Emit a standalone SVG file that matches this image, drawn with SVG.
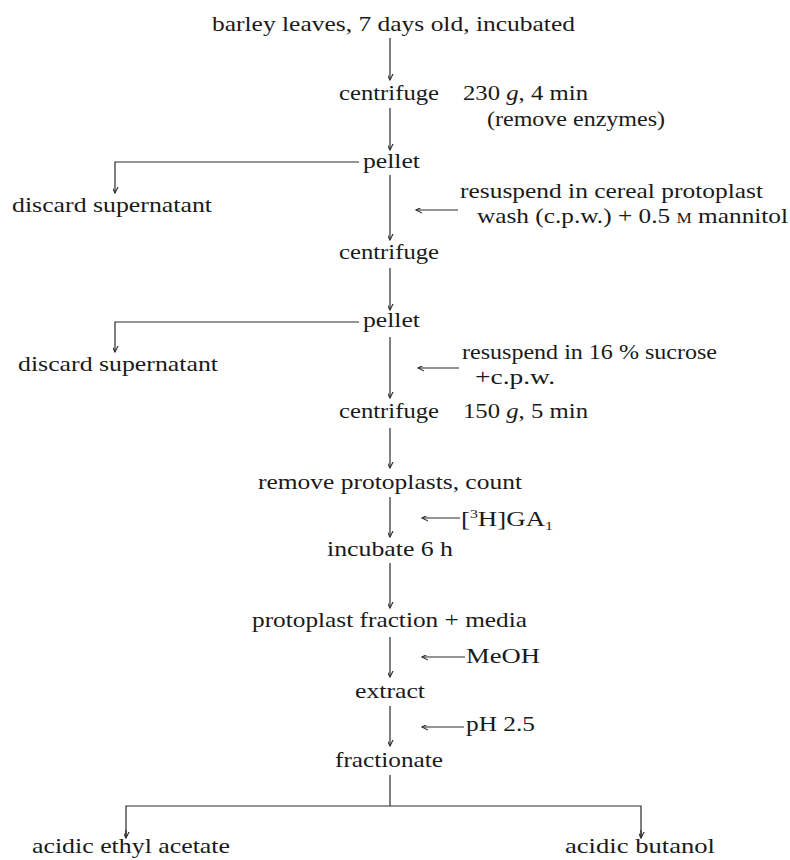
<svg xmlns="http://www.w3.org/2000/svg" width="790" height="860" viewBox="0 0 790 860">
<defs>
<style>
text{font-family:"Liberation Serif","Times New Roman",serif;font-size:22px;fill:#1a1a1a}
.ln{stroke:#2a2a2a;stroke-width:1.2;fill:none}
.sm{font-size:15px}
.sup{font-size:13px}
</style>
<marker id="ah" viewBox="-6 -10 12 12" refX="0" refY="0" markerWidth="12" markerHeight="12" markerUnits="userSpaceOnUse" orient="auto-start-reverse">
<path d="M-4,-8 L0,0 L4,-8" transform="rotate(-90)" stroke="#2a2a2a" stroke-width="1.1" fill="none"/>
</marker>
</defs>
<g id="connectors" class="ln">
<line x1="390" y1="38" x2="390" y2="80" marker-end="url(#ah)"/>
<line x1="390" y1="108" x2="390" y2="150" marker-end="url(#ah)"/>
<polyline points="359,162 115,162 115,193" marker-end="url(#ah)"/>
<line x1="390" y1="175" x2="390" y2="240" marker-end="url(#ah)"/>
<line x1="458" y1="210" x2="416" y2="210" marker-end="url(#ah)"/>
<line x1="390" y1="268" x2="390" y2="310" marker-end="url(#ah)"/>
<polyline points="359,322 115,322 115,352" marker-end="url(#ah)"/>
<line x1="390" y1="337" x2="390" y2="398" marker-end="url(#ah)"/>
<line x1="459" y1="368" x2="418" y2="368" marker-end="url(#ah)"/>
<line x1="390" y1="428" x2="390" y2="468" marker-end="url(#ah)"/>
<line x1="390" y1="497" x2="390" y2="537" marker-end="url(#ah)"/>
<line x1="460" y1="518" x2="422" y2="518" marker-end="url(#ah)"/>
<line x1="390" y1="563" x2="390" y2="608" marker-end="url(#ah)"/>
<line x1="390" y1="637" x2="390" y2="677" marker-end="url(#ah)"/>
<line x1="465" y1="657" x2="422" y2="657" marker-end="url(#ah)"/>
<line x1="390" y1="706" x2="390" y2="746" marker-end="url(#ah)"/>
<line x1="464" y1="727" x2="422" y2="727" marker-end="url(#ah)"/>
<line x1="390" y1="775" x2="390" y2="806"/>
<polyline points="126,838 126,806 641,806 641,838"/>
<line x1="126" y1="830" x2="126" y2="838" marker-end="url(#ah)"/>
<line x1="641" y1="830" x2="641" y2="838" marker-end="url(#ah)"/>
</g>
<g id="n-barley"><text x="212" y="31" textLength="363" lengthAdjust="spacingAndGlyphs">barley leaves, 7 days old, incubated</text></g>
<g id="n-centrifuge1">
<text x="339" y="100" textLength="100" lengthAdjust="spacingAndGlyphs">centrifuge</text>
<text x="463" y="100" textLength="125" lengthAdjust="spacingAndGlyphs">230 <tspan font-style="italic">g</tspan>, 4 min</text>
<text x="487" y="126" textLength="178" lengthAdjust="spacingAndGlyphs">(remove enzymes)</text>
</g>
<g id="n-pellet1"><text x="363" y="168" textLength="57" lengthAdjust="spacingAndGlyphs">pellet</text></g>
<g id="n-discard1"><text x="12" y="212" textLength="200" lengthAdjust="spacingAndGlyphs">discard supernatant</text></g>
<g id="n-resuspend1">
<text x="460" y="198" textLength="303" lengthAdjust="spacingAndGlyphs">resuspend in cereal protoplast</text>
<text x="477" y="223" textLength="311" lengthAdjust="spacingAndGlyphs">wash (c.p.w.) + 0.5 <tspan class="sm">M</tspan> mannitol</text>
</g>
<g id="n-centrifuge2"><text x="339" y="259" textLength="100" lengthAdjust="spacingAndGlyphs">centrifuge</text></g>
<g id="n-pellet2"><text x="363" y="327" textLength="57" lengthAdjust="spacingAndGlyphs">pellet</text></g>
<g id="n-discard2"><text x="18" y="371" textLength="200" lengthAdjust="spacingAndGlyphs">discard supernatant</text></g>
<g id="n-resuspend2">
<text x="462" y="359" textLength="255" lengthAdjust="spacingAndGlyphs">resuspend in 16 % sucrose</text>
<text x="475" y="384" textLength="80" lengthAdjust="spacingAndGlyphs">+c.p.w.</text>
</g>
<g id="n-centrifuge3">
<text x="339" y="418" textLength="100" lengthAdjust="spacingAndGlyphs">centrifuge</text>
<text x="463" y="418" textLength="125" lengthAdjust="spacingAndGlyphs">150 <tspan font-style="italic">g</tspan>, 5 min</text>
</g>
<g id="n-remove"><text x="258" y="489" textLength="264" lengthAdjust="spacingAndGlyphs">remove protoplasts, count</text></g>
<g id="n-ga1"><text x="461" y="526" textLength="92" lengthAdjust="spacingAndGlyphs">[<tspan class="sup" dy="-8">3</tspan><tspan dy="8">H]GA</tspan><tspan class="sup" dy="4">1</tspan></text></g>
<g id="n-incubate"><text x="327" y="556" textLength="126" lengthAdjust="spacingAndGlyphs">incubate 6 h</text></g>
<g id="n-fraction"><text x="252" y="627" textLength="275" lengthAdjust="spacingAndGlyphs">protoplast fraction + media</text></g>
<g id="n-meoh"><text x="466" y="663" textLength="74" lengthAdjust="spacingAndGlyphs">MeOH</text></g>
<g id="n-extract"><text x="355" y="698" textLength="70" lengthAdjust="spacingAndGlyphs">extract</text></g>
<g id="n-ph"><text x="466" y="731" textLength="69" lengthAdjust="spacingAndGlyphs">pH 2.5</text></g>
<g id="n-fractionate"><text x="335" y="767" textLength="108" lengthAdjust="spacingAndGlyphs">fractionate</text></g>
<g id="n-ethyl"><text x="32" y="853" textLength="198" lengthAdjust="spacingAndGlyphs">acidic ethyl acetate</text></g>
<g id="n-butanol"><text x="565" y="853" textLength="150" lengthAdjust="spacingAndGlyphs">acidic butanol</text></g>
</svg>
